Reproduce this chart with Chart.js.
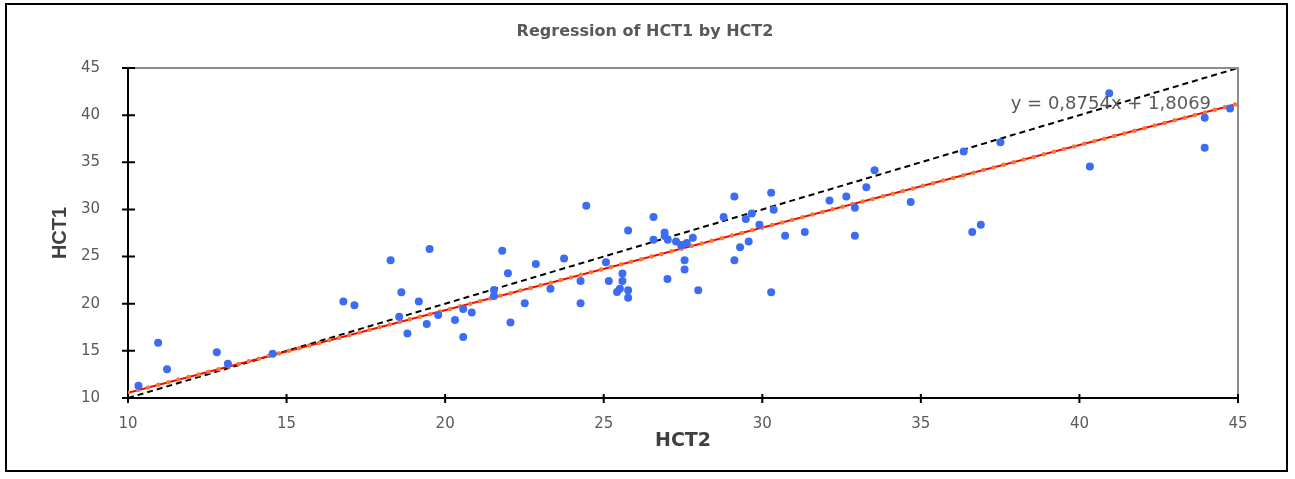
<!DOCTYPE html>
<html>
<head>
<meta charset="utf-8">
<title>Regression of HCT1 by HCT2</title>
<script src="https://cdn.jsdelivr.net/npm/chart.js@4.4.1/dist/chart.umd.min.js"></script>
<style>
  html, body { margin: 0; padding: 0; background: #fff; }
  canvas { display: block; }
</style>
</head>
<body>
<canvas id="chart" width="1295" height="479"></canvas>
<script>
const hct2 = [
  10.33, 10.95, 11.23, 12.80, 13.15, 14.56, 16.79, 17.14, 18.28, 18.62,
  18.55, 18.81, 19.17, 19.42, 19.51, 19.78, 20.31, 20.57, 20.57, 20.84,
  21.54, 21.54, 21.80, 21.98, 22.06, 22.51, 22.86, 23.32, 23.75, 24.27,
  24.27, 24.45, 25.07, 25.16, 25.42, 25.51, 25.59, 25.59, 25.77, 25.77,
  25.77, 26.57, 26.57, 26.92, 26.92, 27.02, 27.01, 27.28, 27.44, 27.55,
  27.55, 27.62, 27.81, 27.98, 28.78, 29.12, 29.12, 29.30, 29.48, 29.57,
  29.67, 29.91, 30.28, 30.28, 30.36, 30.72, 31.34, 32.12, 32.65, 32.92,
  32.92, 33.28, 33.54, 34.68, 36.35, 36.62, 36.89, 37.51, 40.33, 40.94,
  43.95, 43.95, 44.75
];
const hct1 = [
  11.30, 15.87, 13.05, 14.86, 13.64, 14.70, 20.23, 19.83, 24.60, 21.21,
  18.62, 16.85, 20.23, 17.84, 25.80, 18.80, 18.27, 16.46, 19.44, 19.06,
  21.46, 20.82, 25.61, 23.23, 18.02, 20.04, 24.22, 21.60, 24.79, 22.41,
  20.04, 30.39, 24.40, 22.41, 21.24, 21.60, 23.21, 22.41, 21.43, 20.63,
  27.77, 29.19, 26.78, 27.55, 27.17, 26.78, 22.63, 26.60, 26.24, 24.62,
  23.62, 26.43, 26.99, 21.43, 29.19, 31.38, 24.62, 26.00, 28.98, 26.60,
  29.57, 28.37, 31.78, 21.22, 29.97, 27.20, 27.60, 30.96, 31.38, 30.18,
  27.20, 32.34, 34.15, 30.79, 36.14, 27.60, 28.37, 37.13, 34.54, 42.31,
  39.72, 36.53, 40.71
];

// fitted line y = 0,8754x + 1,8069 and the identity line, end points
const lineX = [10, 45];
const fitY = [10.56, 41.20];
const identityY = [10, 45];

const xTicks = [10, 15, 20, 25, 30, 35, 40, 45];
const yTicks = [10, 15, 20, 25, 30, 35, 40, 45];

const chartTitle = 'Regression of HCT1 by HCT2';
const equationText = 'y = 0,8754x + 1,8069';

const toPoints = (xs, ys) => xs.map((x, i) => ({ x: x, y: ys[i] }));

const decor = {
  id: 'decor',
  afterDraw(chart) {
    const ctx = chart.ctx;
    const area = chart.chartArea;
    const xs = chart.scales.x;
    const ys = chart.scales.y;
    ctx.save();

    // outer frame
    ctx.strokeStyle = '#000';
    ctx.lineWidth = 2;
    ctx.strokeRect(6, 4, 1281, 467);

    // grey top and right edge of the plot
    ctx.strokeStyle = '#8c8c8c';
    ctx.lineWidth = 2;
    ctx.beginPath();
    ctx.moveTo(area.left, area.top);
    ctx.lineTo(area.right, area.top);
    ctx.lineTo(area.right, area.bottom);
    ctx.stroke();

    // tick marks crossing the axes
    ctx.strokeStyle = '#000';
    ctx.lineWidth = 2;
    ctx.beginPath();
    xTicks.forEach(v => {
      const px = xs.getPixelForValue(v);
      ctx.moveTo(px, area.bottom - 4);
      ctx.lineTo(px, area.bottom + 5);
    });
    yTicks.forEach(v => {
      const py = ys.getPixelForValue(v);
      ctx.moveTo(area.left - 6, py);
      ctx.lineTo(area.left + 7, py);
    });
    ctx.stroke();

    // title
    ctx.fillStyle = '#595959';
    ctx.font = 'bold 16px "DejaVu Sans"';
    ctx.textAlign = 'center';
    ctx.textBaseline = 'middle';
    ctx.fillText(chartTitle, 645, 31.5);

    // equation of the fitted line
    ctx.font = '18px "DejaVu Sans"';
    ctx.textAlign = 'right';
    ctx.fillText(equationText, xs.getPixelForValue(44.15), ys.getPixelForValue(41.1));
    ctx.restore();
  }
};

new Chart(document.getElementById('chart'), {
  type: 'scatter',
  data: {
    datasets: [
      {
        label: 'HCT1',
        data: toPoints(hct2, hct1),
        backgroundColor: '#3c6cf4',
        borderColor: '#3c6cf4',
        pointRadius: 4,
        pointBorderWidth: 0
      },
      {
        label: 'fit dots',
        data: toPoints(lineX, fitY),
        showLine: true,
        borderColor: '#ed7d31',
        borderWidth: 4.5,
        borderDash: [0, 10.4],
        borderCapStyle: 'round',
        pointRadius: 0
      },
      {
        label: 'fit',
        data: toPoints(lineX, fitY),
        showLine: true,
        borderColor: '#ff0000',
        borderWidth: 2,
        pointRadius: 0
      },
      {
        label: 'y = x',
        data: toPoints(lineX, identityY),
        showLine: true,
        borderColor: '#000',
        borderWidth: 2,
        borderDash: [6, 4],
        pointRadius: 0
      }
    ]
  },
  options: {
    responsive: false,
    animation: false,
    devicePixelRatio: 1,
    layout: { padding: { top: 68, right: 57, left: 0, bottom: 0 } },
    plugins: {
      legend: { display: false },
      tooltip: { enabled: false }
    },
    scales: {
      x: {
        type: 'linear',
        min: 10,
        max: 45,
        afterBuildTicks: s => { s.ticks = xTicks.map(v => ({ value: v })); },
        afterFit: s => { s.height = 81; },
        grid: { display: false },
        border: { display: true, color: '#000', width: 2 },
        ticks: {
          color: '#595959',
          font: { family: 'DejaVu Sans', size: 15 },
          padding: 9
        },
        title: {
          display: true,
          text: 'HCT2',
          color: '#404040',
          font: { family: 'DejaVu Sans', size: 19, weight: 'bold' },
          padding: { top: 0, bottom: 27 }
        }
      },
      y: {
        type: 'linear',
        min: 10,
        max: 45,
        afterBuildTicks: s => { s.ticks = yTicks.map(v => ({ value: v })); },
        afterFit: s => { s.width = 128; },
        grid: { display: false },
        border: { display: true, color: '#000', width: 2 },
        ticks: {
          color: '#595959',
          font: { family: 'DejaVu Sans', size: 15 },
          padding: 20
        },
        title: {
          display: true,
          text: 'HCT1',
          color: '#404040',
          font: { family: "'Liberation Sans Narrow', 'Liberation Sans'", size: 20, weight: 'bold' },
          padding: { top: 48, bottom: 0 }
        }
      }
    }
  },
  plugins: [decor]
});
</script>
</body>
</html>
